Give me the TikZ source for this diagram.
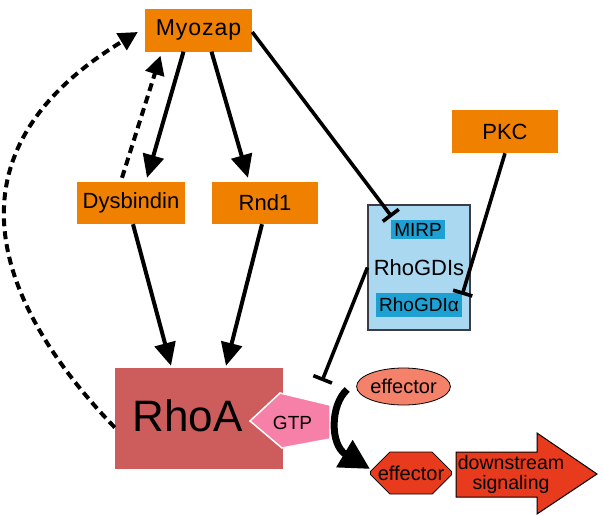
\documentclass[tikz,border=0pt]{standalone}
\usepackage{fontspec}
\setmainfont{Liberation Sans}
\usetikzlibrary{arrows.meta,shapes.geometric,shapes.misc}
\definecolor{geneorange}{RGB}{240,128,0}
\definecolor{gdiblue}{RGB}{170,216,240}
\definecolor{gdiborder}{RGB}{60,60,70}
\definecolor{tagblue}{RGB}{30,160,210}
\definecolor{rhoared}{RGB}{205,92,92}
\definecolor{gtppink}{RGB}{247,128,168}
\definecolor{effectsalmon}{RGB}{244,130,106}
\definecolor{signalred}{RGB}{232,58,28}

\begin{document}
\begin{tikzpicture}
   [
     x = 1pt, y = -1pt,
     every node/.style = {inner sep=0pt, font=\fontsize{22}{26}\selectfont},
     act/.style        = {-{Triangle[length=23pt,width=21pt]}, line width=4pt},
     feedback/.style   = {line width=4pt, dash pattern=on 8pt off 5pt,
                          -{Triangle[length=19pt,width=19pt]}},
     inhib/.style      = {-{Bar[width=20pt]}, line width=3.6pt},
     gene/.style       = {rectangle, fill=geneorange,
                          minimum width=107pt, minimum height=43pt},
     tag/.style        = {rectangle, fill=tagblue, font=\fontsize{19}{22}\selectfont},
     effect/.style     = {draw=black, line width=0.8pt, font=\fontsize{20}{22}\selectfont}
   ]
    \useasboundingbox (0,0) rectangle (602,515);

    \node [gene, font=\fontsize{23}{26}\selectfont\addfontfeature{LetterSpace=4}] (myozap) at (198.5,30) {Myozap};
    \node [gene, minimum width=108pt, minimum height=42pt] (dysbindin) at (131,203) {Dysbindin};
    \node [gene, minimum width=106pt, minimum height=42pt] (rnd1) at (265,203) {Rnd1};
    \node [gene, minimum width=106pt] (pkc) at (505,131.5) {PKC};

    \node [draw=gdiborder, fill=gdiblue, line width=1.2pt,
           minimum width=102pt, minimum height=125pt] (rhogdi) at (419,267.5) {RhoGDIs};
    \node [tag, minimum width=54pt, minimum height=19pt] (mirp) at (418,229.5) {MIRP};
    \node [tag, minimum width=86pt, minimum height=24pt] (rhogdia) at (419,305) {RhoGDIα};

    \node [fill=rhoared, minimum width=168pt, minimum height=101pt] (rhoa) at (199,418.5) {};
    \node [font=\fontsize{44}{50}\selectfont] (rhoatext) at (187.5,416) {RhoA};

    \draw [fill=gtppink, draw=white, line width=1.5pt]
      (250,421) -- (280,393) -- (330,405) -- (330,439) -- (282,448) -- cycle;
    \node [font=\fontsize{19}{22}\selectfont] (gtp) at (292.5,423) {GTP};

    \node [effect, ellipse, fill=effectsalmon, minimum width=81pt, minimum height=37pt]
      (effector1) at (403.5,386.5) {effector};
    \node [effect, chamfered rectangle, chamfered rectangle xsep=12pt,
           chamfered rectangle ysep=12pt, fill=signalred,
           minimum width=80pt, minimum height=42pt] (effector2) at (411,473) {effector};

    \draw [fill=signalred, line width=1pt]
      (456,452) -- (537,452) -- (537,433) -- (597,474) -- (537,514) -- (537,497) -- (456,497) -- cycle;
    \node [align=center, font=\fontsize{19.5}{20}\selectfont] (downstream) at (511,474)
      {downstream\\signaling};

    \draw [act] ([xshift=-15pt]myozap.south) -- ([xshift=16pt, yshift=4pt]dysbindin.north);
    \draw [feedback] ([xshift=-9pt, yshift=4pt]dysbindin.north) -- ([xshift=-38pt, yshift=-4pt]myozap.south);
    \draw [act] ([xshift=13pt]myozap.south) -- ([xshift=-17pt, yshift=4pt]rnd1.north);
    \draw [act] ([xshift=2pt]dysbindin.south) -- ([xshift=-28pt, yshift=2pt]rhoa.north);
    \draw [act] ([xshift=-3pt]rnd1.south) -- ([xshift=27pt, yshift=2pt]rhoa.north);

    \draw [inhib] ([yshift=-2pt]myozap.east) -- ([xshift=1pt, yshift=3pt]mirp.north west);
    \draw [inhib] (pkc.south) -- ([yshift=-2pt]rhogdia.north east);
    \coordinate (gdistop) at (322,381);
    \draw [inhib] (rhogdi.west) -- (gdistop);

    \draw [feedback] ([yshift=-9pt]rhoa.west)
      .. controls (15,324) and (-78,163) .. ([xshift=-7pt, yshift=-2pt]myozap.west);

    \draw [line width=7pt, -{Triangle[length=30pt,width=30pt]}]
      ([xshift=-9pt, yshift=-3pt]effector1.west)
      .. controls (330,405) and (330,445) .. ([yshift=4pt]effector2.west);
\end{tikzpicture}
\end{document}
